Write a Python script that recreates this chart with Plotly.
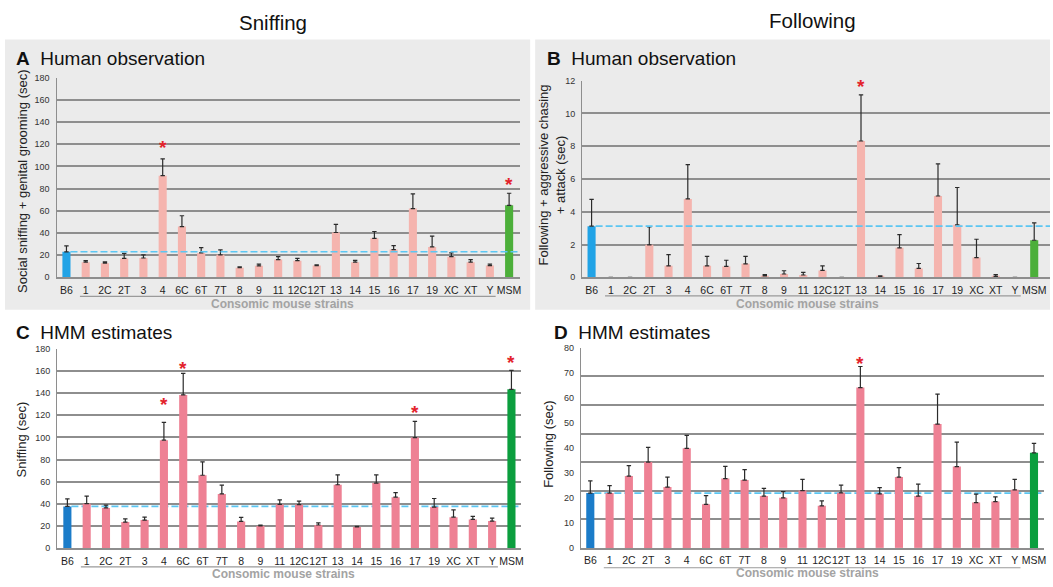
import plotly.graph_objects as go

W, H = 1053, 587

strains = ["B6", "1", "2C", "2T", "3", "4", "6C", "6T", "7T", "8", "9", "11",
           "12C", "12T", "13", "14", "15", "16", "17", "19", "XC", "XT", "Y", "MSM"]

# A: human observation, social sniffing + genital grooming (sec)
sniff_obs_mean = [23.0, 13.6, 12.7, 17.0, 17.4, 91.7, 45.7, 22.0, 20.3, 8.6, 10.3, 16.0,
                  15.0, 10.6, 40.4, 13.6, 35.1, 25.0, 62.0, 27.4, 18.6, 13.6, 10.6, 64.9]
sniff_obs_upper = [28.3, 15.0, 13.9, 21.5, 20.3, 106.8, 55.5, 26.8, 24.8, 9.4, 11.8, 18.6,
                   17.1, 11.2, 47.8, 15.3, 41.3, 28.6, 75.2, 37.2, 22.1, 15.9, 11.8, 75.8]
sniff_obs_sig = ["4", "MSM"]
sniff_obs_sig_y = [121.0, 87.6]

# B: human observation, following + aggressive chasing + attack (sec)
follow_obs_mean = [3.12, 0, 0, 1.98, 0.70, 4.78, 0.70, 0.66, 0.82, 0.08, 0.20, 0.14,
                   0.42, 0, 8.32, 0.04, 1.80, 0.54, 4.96, 3.20, 1.20, 0.06, 0, 2.26]
follow_obs_upper = [4.76, None, None, 3.08, 1.38, 6.88, 1.28, 1.04, 1.28, 0.16, 0.40, 0.30,
                    0.70, None, 11.14, 0.08, 2.60, 0.84, 6.92, 5.48, 2.32, 0.16, None, 3.32]
follow_obs_sig = ["13"]
follow_obs_sig_y = [11.86]

# C: HMM estimates, sniffing (sec)
sniff_hmm_mean = [37.8, 40.2, 36.4, 23.6, 25.4, 97.5, 138.3, 65.9, 49.0, 24.2, 20.1, 39.6,
                  39.3, 21.0, 57.3, 19.2, 58.8, 46.1, 99.9, 37.2, 28.1, 26.0, 24.5, 143.4]
sniff_hmm_upper = [44.6, 47.0, 39.0, 26.6, 28.1, 113.5, 157.8, 78.0, 57.0, 27.8, 21.0, 43.7,
                   42.6, 23.0, 66.2, 19.8, 66.2, 50.2, 114.4, 44.9, 34.6, 28.7, 27.2, 160.5]
sniff_hmm_sig = ["4", "6C", "17", "MSM"]
sniff_hmm_sig_y = [133.3, 165.8, 126.5, 170.9]

# D: HMM estimates, following (sec)
follow_hmm_mean = [21.9, 21.9, 28.7, 34.3, 24.3, 39.8, 17.4, 27.7, 27.1, 20.7, 20.0, 22.9,
                   16.8, 22.0, 64.1, 21.6, 28.3, 20.7, 49.5, 32.5, 18.1, 18.5, 23.2, 38.0]
follow_hmm_upper = [26.8, 24.9, 32.9, 40.2, 28.3, 45.0, 20.9, 32.6, 31.3, 23.8, 22.5, 27.4,
                    18.8, 25.1, 72.5, 24.1, 32.1, 25.5, 61.5, 42.3, 21.5, 20.4, 27.4, 41.8]
follow_hmm_sig = ["13"]
follow_hmm_sig_y = [75.5]

FONT = "Arial, 'Liberation Sans', Helvetica, sans-serif"
GRID = "#8e8e8e"
DASH = "#5cc6f2"
STAR = "#e3232c"

xs = list(range(len(strains)))


def px_x(p):
    return p / W


def px_y(p):
    return 1 - p / H


panels = [
    dict(key="1", mean=sniff_obs_mean, upper=sniff_obs_upper, sig=sniff_obs_sig, sig_y=sniff_obs_sig_y,
         colors=("#21a3e6", "#f5b4ae", "#4caf3a"), xdom=(56.8, 521), ydom=(277, 74),
         xrange=(-0.51, 23.54), yrange=(0, 180), dtick=20, dash_layer="above",
         under_y=296.5, label_y=304, label_x=11.2),
    dict(key="2", mean=follow_obs_mean, upper=follow_obs_upper, sig=follow_obs_sig, sig_y=follow_obs_sig_y,
         colors=("#21a3e6", "#f5b4ae", "#4caf3a"), xdom=(584, 1053), ydom=(277, 77),
         xrange=(-0.48, 23.82), yrange=(0, 12), dtick=2, dash_layer="above",
         under_y=296, label_y=304, label_x=11.23),
    dict(key="3", mean=sniff_hmm_mean, upper=sniff_hmm_upper, sig=sniff_hmm_sig, sig_y=sniff_hmm_sig_y,
         colors=("#1b7cc9", "#ee8194", "#0b9e3e"), xdom=(57.5, 522), ydom=(552.7, 349.7),
         xrange=(-0.52, 23.47), yrange=(0, 180), dtick=20, dash_layer="between",
         under_y=571.7, label_y=579, label_x=11.2),
    dict(key="4", mean=follow_hmm_mean, upper=follow_hmm_upper, sig=follow_hmm_sig, sig_y=follow_hmm_sig_y,
         colors=("#1b7cc9", "#ee8194", "#0b9e3e"), xdom=(582.7, 1047), ydom=(552.3, 348.7),
         xrange=(-0.48, 23.52), yrange=(0, 80), dtick=10, dash_layer="between",
         under_y=572.5, label_y=578, label_x=11.25),
]

fig = go.Figure()
shapes = []
annotations = []
layout = {}

# grey panel backgrounds behind the two human-observation charts
for x0, x1 in [(5, 531.7), (536.7, 1053)]:
    shapes.append(dict(type="rect", xref="paper", yref="paper", x0=px_x(x0), x1=px_x(x1),
                       y0=px_y(310), y1=px_y(35), fillcolor="#ebebeb", line_width=0, layer="below"))

for p in panels:
    k = p["key"]
    xa, ya = ("x" if k == "1" else "x" + k), ("y" if k == "1" else "y" + k)
    b6c, conc, msmc = p["colors"]
    colors = [b6c] + [conc] * (len(strains) - 2) + [msmc]
    err_plus = [None if u is None else u - m for m, u in zip(p["mean"], p["upper"])]
    fig.add_trace(go.Bar(
        x=xs, y=p["mean"], xaxis=xa, yaxis=ya, width=0.42,
        marker=dict(color=colors, line_width=0),
        error_y=dict(type="data", symmetric=False, array=err_plus,
                     arrayminus=[0] * len(strains), color="#2b2b2b", thickness=1.2, width=2.2),
        showlegend=False, hoverinfo="skip",
    ))
    gridded = k != "4"
    layout["xaxis" + ("" if k == "1" else k)] = dict(
        domain=[px_x(p["xdom"][0]), px_x(p["xdom"][1])], range=list(p["xrange"]),
        anchor=ya, tickmode="array", tickvals=xs, ticktext=strains, ticks="", tickangle=0,
        tickfont=dict(family=FONT, size=10.5, color="#1e1e1e"), ticklabelstandoff=2,
        showgrid=False, zeroline=False, showline=True, linecolor=GRID, linewidth=2, fixedrange=True)
    layout["yaxis" + ("" if k == "1" else k)] = dict(
        domain=[px_y(p["ydom"][0]), px_y(p["ydom"][1])], range=list(p["yrange"]),
        anchor=xa, dtick=p["dtick"], ticks="", tickfont=dict(family=FONT, size=9, color="#333"),
        ticklabelstandoff=4, showgrid=gridded, gridcolor=GRID, gridwidth=1.8,
        zeroline=False, showline=True, linecolor=GRID, linewidth=1.4, fixedrange=True)

    # dashed reference at the B6 level
    shapes.append(dict(type="line", xref=xa, yref=ya, x0=0.21, x1=p["xrange"][1],
                       y0=p["mean"][0], y1=p["mean"][0], layer=p["dash_layer"],
                       line=dict(color=DASH, width=1.6, dash="7px,3px")))
    # bracket line under the consomic strains
    shapes.append(dict(type="line", xref=xa, yref="paper", x0=0.7, x1=22.3,
                       y0=px_y(p["under_y"]), y1=px_y(p["under_y"]),
                       line=dict(color="#9a9a9a", width=1.2)))
    annotations.append(dict(xref=xa, yref="paper", x=p["label_x"], y=px_y(p["label_y"]),
                            text="<b>Consomic mouse strains</b>", showarrow=False,
                            font=dict(family=FONT, size=12, color="#a3a3a3"),
                            xanchor="center", yanchor="middle"))
    # significance stars
    for s, sy in zip(p["sig"], p["sig_y"]):
        annotations.append(dict(xref=xa, yref=ya, x=strains.index(s), y=sy, text="<b>*</b>",
                                showarrow=False, yshift=-4,
                                font=dict(family=FONT, size=19, color=STAR),
                                xanchor="center", yanchor="middle"))

# gridlines of panel D follow their own seven-step spacing
layout["yaxis5"] = dict(domain=layout["yaxis4"]["domain"], range=[0, 7], dtick=1,
                        overlaying="y4", anchor="x4", showticklabels=False, ticks="",
                        showgrid=True, gridcolor=GRID, gridwidth=1.8, zeroline=False,
                        showline=False, fixedrange=True)
fig.add_trace(go.Scatter(x=[None], y=[None], xaxis="x4", yaxis="y5", showlegend=False,
                         hoverinfo="skip"))

# column headings
annotations.append(dict(xref="paper", yref="paper", x=px_x(274), y=px_y(18), text="Sniffing",
                        showarrow=False, font=dict(family=FONT, size=20.5, color="#111"),
                        xanchor="center", yanchor="middle"))
annotations.append(dict(xref="paper", yref="paper", x=px_x(815), y=px_y(16), text="Following",
                        showarrow=False, font=dict(family=FONT, size=20.5, color="#111"),
                        xanchor="center", yanchor="middle"))

# panel headings
for letter, name, x, y in [("A", "Human observation", 14, 54), ("B", "Human observation", 547, 54),
                           ("C", "HMM estimates", 14, 333), ("D", "HMM estimates", 554, 333)]:
    annotations.append(dict(xref="paper", yref="paper", x=px_x(x), y=px_y(y),
                            text=f"<b>{letter}</b>&nbsp;&nbsp;{name}", showarrow=False,
                            font=dict(family=FONT, size=19, color="#111"),
                            xanchor="left", yanchor="middle"))

# y-axis titles
for text, x, y in [("Social sniffing + genital grooming (sec)", 23, 179),
                   ("Following + aggressive chasing<br>+ attack (sec)", 554, 173),
                   ("Sniffing (sec)", 22, 442),
                   ("Following (sec)", 550, 447)]:
    annotations.append(dict(xref="paper", yref="paper", x=px_x(x), y=px_y(y), text=text,
                            textangle=-90, showarrow=False,
                            font=dict(family=FONT, size=13, color="#222"),
                            xanchor="center", yanchor="middle"))

fig.update_layout(
    width=W, height=H, margin=dict(l=0, r=0, t=0, b=0),
    paper_bgcolor="white", plot_bgcolor="rgba(0,0,0,0)",
    shapes=shapes, annotations=annotations, bargap=0.5,
    font=dict(family=FONT), **layout,
)

fig.write_html("out.html", config={"displayModeBar": False})
